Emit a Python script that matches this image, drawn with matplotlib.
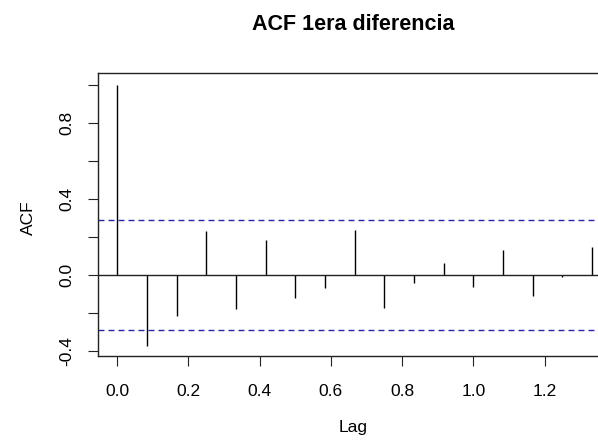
import numpy as np
import matplotlib.pyplot as plt

plt.rcParams['font.family'] = ['Liberation Sans', 'DejaVu Sans']
plt.rcParams['lines.scale_dashes'] = False

# lags in years (monthly series, frequency 12)
lags = np.arange(17) / 12
acf_vals = [1.0, -0.374, -0.216, 0.232, -0.181, 0.184, -0.121, -0.067, 0.237,
            -0.175, -0.044, 0.065, -0.061, 0.130, -0.109, -0.009, 0.147]
ci = 0.288

yticks = [-0.4, -0.2, 0.0, 0.2, 0.4, 0.6, 0.8, 1.0]
ytick_labels = ['-0.4', '', '0.0', '', '0.4', '', '0.8', '']
xticks = [0.0, 0.2, 0.4, 0.6, 0.8, 1.0, 1.2]

fig = plt.figure(figsize=(5.98, 4.44), dpi=100)
ax = fig.add_axes([0.1644, 0.1982, 0.8356, 0.6368])

ax.vlines(lags, 0, acf_vals, color='black', lw=1.0)
ax.axhline(0, color='#222222', lw=1.0)
ax.axhline(ci, color='#2525b0', lw=1.0, dashes=(4.3, 2.9))
ax.axhline(-ci, color='#2525b0', lw=1.0, dashes=(4.3, 2.9))

ax.set_xlim(-0.053, 1.35)
ax.set_ylim(-0.426, 1.062)

ax.set_xticks(xticks)
ax.set_xticklabels([f'{t:.1f}' for t in xticks])
ax.set_yticks(yticks)
ax.set_yticklabels(ytick_labels, rotation=90, va='center')

ax.tick_params(axis='both', length=7.2, width=0.8, color='#222222', labelsize=12.5)
ax.tick_params(axis='x', pad=13)
ax.tick_params(axis='y', pad=10)

for s in ['top', 'bottom', 'left']:
    ax.spines[s].set_linewidth(1.0)
    ax.spines[s].set_color('#222222')
ax.spines['right'].set_visible(False)

fig.text(28 / 598, 1 - 218 / 444, 'ACF', rotation=90, ha='center', va='center', fontsize=12.5)
fig.text(353 / 598, 1 - 427 / 444, 'Lag', ha='center', va='center', fontsize=12.5)
fig.text(353 / 598, 1 - 25 / 444, 'ACF 1era diferencia', ha='center', va='center',
         fontsize=15.5, fontweight='bold')

fig.savefig('out.png', dpi=100)
